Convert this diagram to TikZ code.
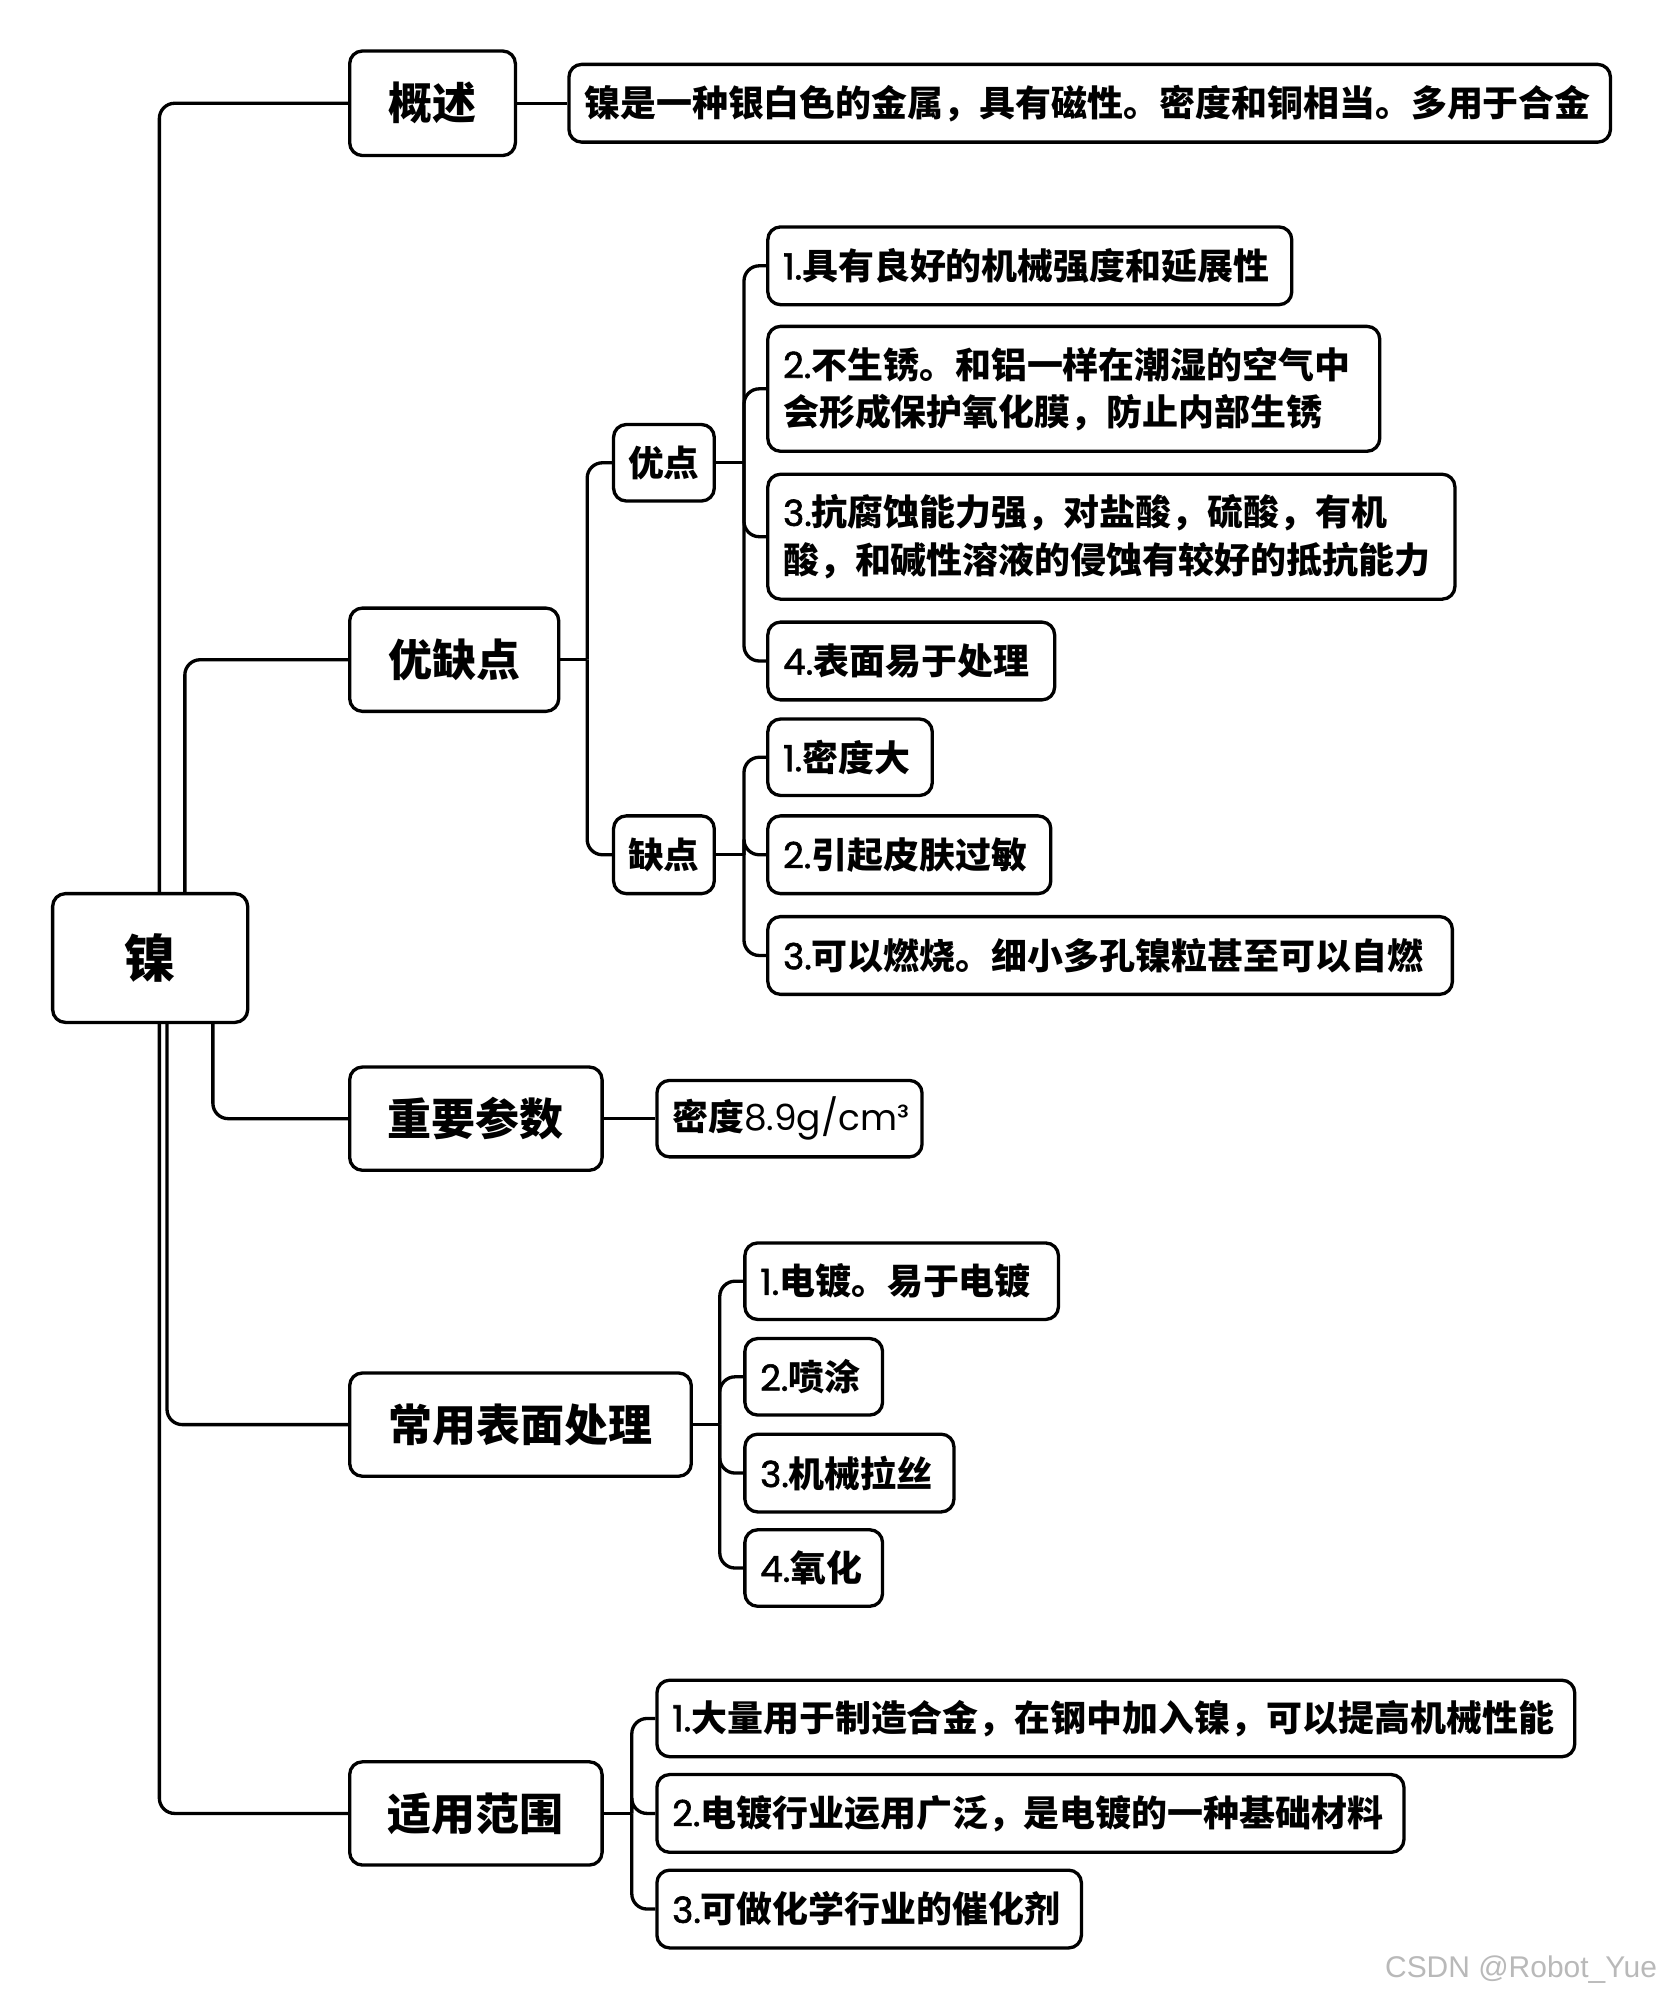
\documentclass[tikz,border=0pt]{standalone}
\usepackage{fontspec}
\setmainfont{Noto Sans CJK SC}
\newfontfamily\lat{Poppins}[FakeBold=1.6]
\newfontfamily\latr{Poppins}
\newfontfamily\wmfont{Liberation Sans}
\newcommand\nm[1]{{\lat\mdseries #1}}
\newcommand\nr[1]{{\latr\mdseries #1}}
\begin{document}
\begin{tikzpicture}[x=1pt,y=-1pt,
  nbox/.style={draw, line width=2.6pt, rounded corners=10pt, inner sep=0pt, anchor=west},
  lone/.style={nbox, align=center, font=\bfseries\fontsize{34.5}{40}\selectfont},
  ltwo/.style={nbox, align=center, font=\bfseries\fontsize{28}{37}\selectfont},
  leaf/.style={nbox, align=left, inner xsep=12pt, font=\bfseries\fontsize{28.2}{37}\selectfont},
  conn/.style={line width=2.6pt, rounded corners=12pt}]
\useasboundingbox (0,0) rectangle (1305,1572);

% root
\node[nbox, align=center, text width=153pt, minimum height=101pt, font=\bfseries\fontsize{40}{46}\selectfont] (root) at (40,751.5) {镍};

% level 1
\node[lone, text width=130pt, minimum height=82pt] (gaishu) at (273,81) {概述};
\node[lone, text width=164pt, minimum height=81pt] (youque) at (273,517.5) {优缺点};
\node[lone, text width=198pt, minimum height=81pt] (zhongyao) at (273,877.5) {重要参数};
\node[lone, text width=268pt, minimum height=81pt] (changyong) at (273,1117.5) {常用表面处理};
\node[lone, text width=198pt, minimum height=81pt] (shiyong) at (273,1422.5) {适用范围};

% overview
\node[leaf, text width=793pt, minimum height=61pt] (desc) at (445,81) {镍是一种银白色的金属，具有磁性。密度和铜相当。多用于合金};

% pros / cons
\node[ltwo, text width=79pt, minimum height=60pt] (youdian) at (480,363) {优点};
\node[ltwo, text width=79pt, minimum height=61pt] (quedian) at (480,670.5) {缺点};

\node[leaf, text width=387pt, minimum height=61pt] (a1) at (601,208.5) {\nm{1.}具有良好的机械强度和延展性};
\node[leaf, text width=456pt, minimum height=98pt] (a2) at (601,305) {\nm{2.}不生锈。和铝一样在潮湿的空气中\\会形成保护氧化膜，防止内部生锈};
\node[leaf, text width=515pt, minimum height=98pt] (a3) at (601,421) {\nm{3.}抗腐蚀能力强，对盐酸，硫酸，有机\\酸，和碱性溶液的侵蚀有较好的抵抗能力};
\node[leaf, text width=201pt, minimum height=61pt] (a4) at (601,518.5) {\nm{4.}表面易于处理};

\node[leaf, text width=105pt, minimum height=60pt] (d1) at (601,594) {\nm{1.}密度大};
\node[leaf, text width=198pt, minimum height=61pt] (d2) at (601,670.5) {\nm{2.}引起皮肤过敏};
\node[leaf, text width=513pt, minimum height=61pt] (d3) at (601,749.5) {\nm{3.}可以燃烧。细小多孔镍粒甚至可以自燃};

% parameters
\node[leaf, text width=184pt, minimum height=60pt] (density) at (514,877.5) {密度\nr{8.9g/cm³}};

% surface treatment
\node[leaf, text width=222pt, minimum height=60pt] (s1) at (583,1005) {\nm{1.}电镀。易于电镀};
\node[leaf, text width=84pt, minimum height=60pt] (s2) at (583,1080) {\nm{2.}喷涂};
\node[leaf, text width=140pt, minimum height=61pt] (s3) at (583,1155.5) {\nm{3.}机械拉丝};
\node[leaf, text width=84pt, minimum height=60pt] (s4) at (583,1230) {\nm{4.}氧化};

% applications
\node[leaf, text width=696pt, minimum height=60pt] (u1) at (514,1348) {\nm{1.}大量用于制造合金，在钢中加入镍，可以提高机械性能};
\node[leaf, text width=562pt, minimum height=61pt] (u2) at (514,1422.5) {\nm{2.}电镀行业运用广泛，是电镀的一种基础材料};
\node[leaf, text width=309pt, minimum height=61pt] (u3) at (514,1497.5) {\nm{3.}可做化学行业的催化剂};

% watermark
\node[anchor=east, inner sep=0pt, text=gray!55, font=\wmfont\fontsize{23.5}{26}\selectfont] (wm) at (1300,1545) {CSDN @Robot\_Yue};

% root connectors
\draw[conn] ([xshift=85pt]root.north west) |- (gaishu.west);
\draw[conn] ([xshift=105pt]root.north west) |- (youque.west);
\draw[conn] ([xshift=127pt]root.south west) |- (zhongyao.west);
\draw[conn] ([xshift=91pt]root.south west) |- (changyong.west);
\draw[conn] ([xshift=85pt]root.south west) |- (shiyong.west);

% overview / parameters
\draw[conn] (gaishu.east) -- (desc.west);
\draw[conn] (zhongyao.east) -- (density.west);

% pros/cons bus
\coordinate (b1) at ([xshift=21pt]youque.east);
\draw[conn] (youque.east) -- (b1);
\draw[conn] (b1) |- (youdian.west);
\draw[conn] (b1) |- (quedian.west);

\coordinate (b2) at ([xshift=22pt]youdian.east);
\draw[conn] (youdian.east) -- (b2);
\foreach \n in {a1,a2,a3,a4} \draw[conn] (b2) |- (\n.west);

\coordinate (b3) at ([xshift=22pt]quedian.east);
\draw[conn] (quedian.east) -- (b3);
\foreach \n in {d1,d2,d3} \draw[conn] (b3) |- (\n.west);

\coordinate (b4) at ([xshift=21pt]changyong.east);
\draw[conn] (changyong.east) -- (b4);
\foreach \n in {s1,s2,s3,s4} \draw[conn] (b4) |- (\n.west);

\coordinate (b5) at ([xshift=22pt]shiyong.east);
\draw[conn] (shiyong.east) -- (b5);
\foreach \n in {u1,u2,u3} \draw[conn] (b5) |- (\n.west);
\end{tikzpicture}
\end{document}
